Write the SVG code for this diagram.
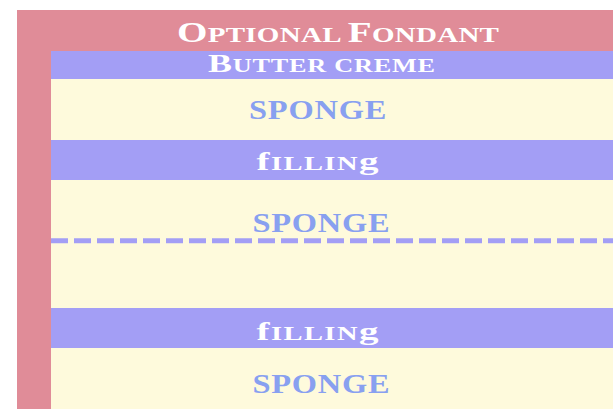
<svg xmlns="http://www.w3.org/2000/svg" width="613" height="409" viewBox="0 0 613 409">
<style>
.t{font-family:"Liberation Serif","Times New Roman",serif;font-weight:bold}
.w{fill:#ffffff}
.s{fill:#88a0f0;font-size:27px}
.band{fill:#a39ef5}
</style>
<rect x="0" y="0" width="613" height="409" fill="#ffffff"/>
<g id="fondant">
<rect x="17" y="10" width="596" height="399" fill="#e08c98"/>
<text class="t w" transform="translate(177,41.5) scale(1.35,1)" x="0" y="0" textLength="238.5" lengthAdjust="spacing"><tspan font-size="29">O</tspan><tspan font-size="21.5">PTIONAL </tspan><tspan font-size="29">F</tspan><tspan font-size="21.5">ONDANT</tspan></text>
</g>
<g id="cake">
<rect x="51" y="51" width="562" height="358" fill="#fefadc"/>
</g>
<g id="butter-creme">
<rect class="band" x="51" y="51" width="562" height="28"/>
<text class="t w" transform="translate(208,71.5) scale(1.38,1)" x="0" y="0" textLength="164.5" lengthAdjust="spacing"><tspan font-size="26">B</tspan><tspan font-size="19">UTTER CREME</tspan></text>
</g>
<g id="sponge-1">
<text class="t s" transform="translate(249,119) scale(1.2,1)" x="0" y="0" textLength="114.5" lengthAdjust="spacing">SPONGE</text>
</g>
<g id="filling-1">
<rect class="band" x="51" y="140" width="562" height="40"/>
<text class="t w" transform="translate(256.5,170) scale(1.5,1)" x="0" y="0" textLength="81.3" lengthAdjust="spacing"><tspan font-size="26">f</tspan><tspan font-size="19">ILLIN</tspan><tspan font-size="26">g</tspan></text>
</g>
<g id="sponge-2">
<text class="t s" transform="translate(252.5,231.5) scale(1.2,1)" x="0" y="0" textLength="114.2" lengthAdjust="spacing">SPONGE</text>
</g>
<g id="connectors">
<line x1="51" y1="240.8" x2="613" y2="240.8" stroke="#a39ef5" stroke-width="5" stroke-dasharray="17 6"/>
</g>
<g id="filling-2">
<rect class="band" x="51" y="308" width="562" height="40"/>
<text class="t w" transform="translate(256.5,339.5) scale(1.5,1)" x="0" y="0" textLength="81.3" lengthAdjust="spacing"><tspan font-size="26">f</tspan><tspan font-size="19">ILLIN</tspan><tspan font-size="26">g</tspan></text>
</g>
<g id="sponge-3">
<text class="t s" transform="translate(252.5,393) scale(1.2,1)" x="0" y="0" textLength="114.2" lengthAdjust="spacing">SPONGE</text>
</g>
</svg>
